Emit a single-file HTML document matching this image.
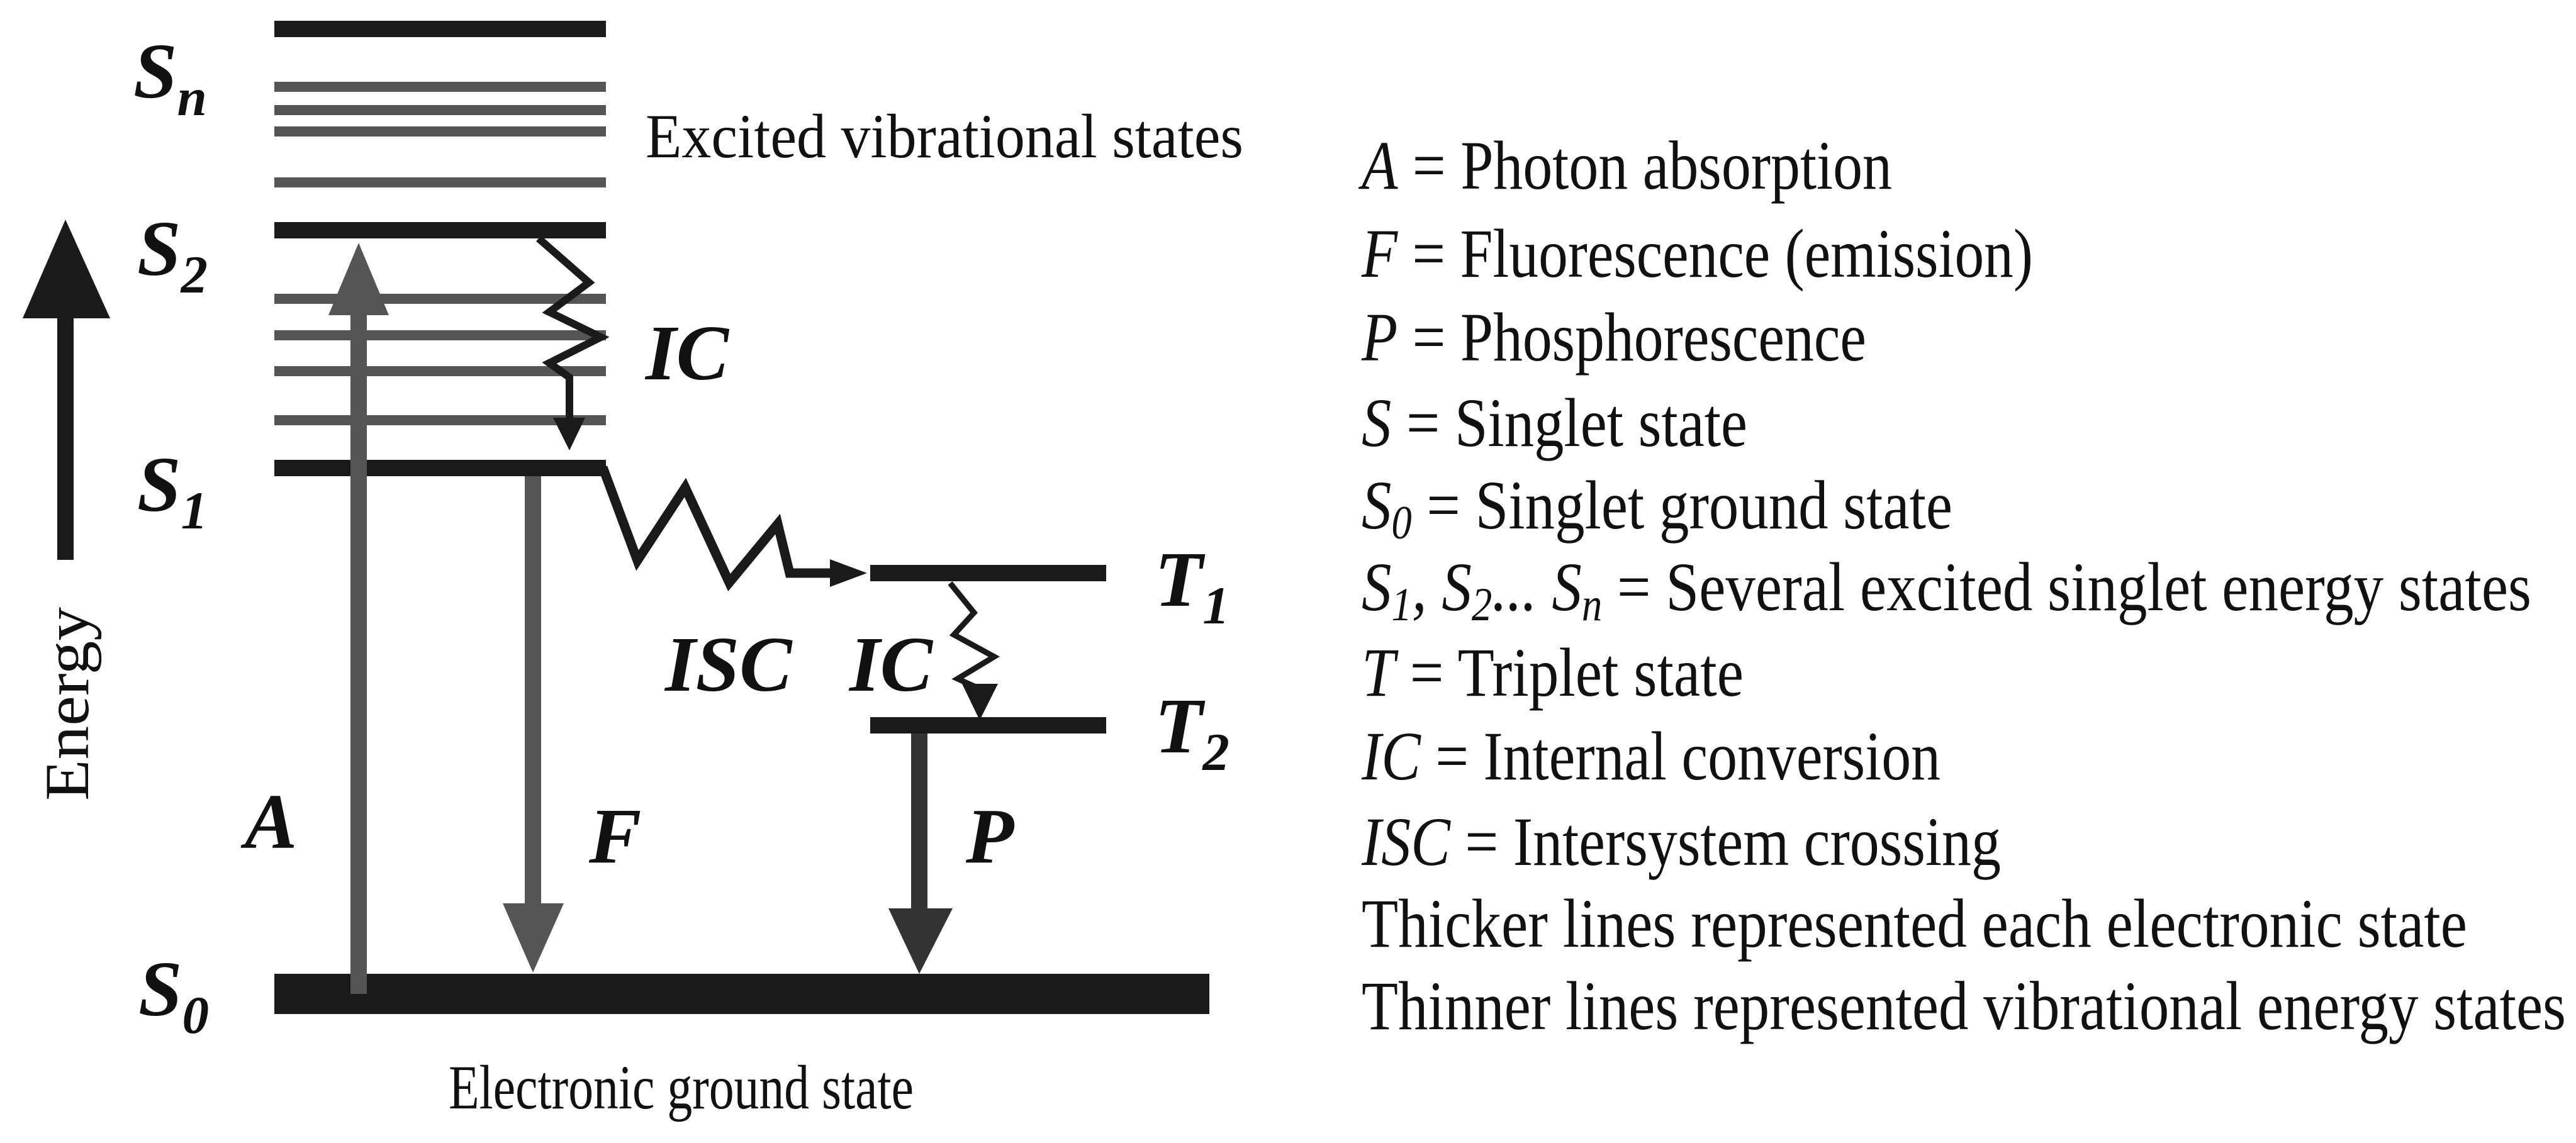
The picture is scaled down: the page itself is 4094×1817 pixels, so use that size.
<!DOCTYPE html>
<html><head><meta charset="utf-8"><style>html,body{margin:0;padding:0;background:#fff}svg{display:block}text{font-family:"Liberation Serif","Times New Roman",Times,serif}</style></head>
<body>
<svg width="4094" height="1817" viewBox="0 0 4094 1817" xmlns="http://www.w3.org/2000/svg">
<rect width="4094" height="1817" fill="#fff"/>
<g fill="#1a1a1a">
<rect x="436" y="33" width="527" height="26"/>
<rect x="436" y="353" width="527" height="26"/>
<rect x="436" y="731" width="527" height="26"/>
<rect x="1383" y="898" width="375" height="26"/>
<rect x="1383" y="1140" width="375" height="26"/>
<rect x="436" y="1548" width="1486" height="64"/>
</g>
<g fill="#555">
<rect x="436" y="130" width="527" height="16"/>
<rect x="436" y="167" width="527" height="16"/>
<rect x="436" y="201" width="527" height="16"/>
<rect x="436" y="282" width="527" height="16"/>
<rect x="436" y="467" width="527" height="16"/>
<rect x="436" y="525" width="527" height="16"/>
<rect x="436" y="582" width="527" height="16"/>
<rect x="436" y="660" width="527" height="16"/>
</g>
<rect x="91" y="500" width="26" height="390" fill="#1a1a1a"/>
<polygon points="104,349 36,506 175,506" fill="#1a1a1a"/>
<rect x="557" y="495" width="26" height="1085" fill="#555"/>
<polygon points="570,386 522,501 618,501" fill="#555"/>
<rect x="834" y="757" width="26" height="685" fill="#555"/>
<polygon points="847,1546 799,1436 896,1436" fill="#555"/>
<rect x="1448" y="1166" width="26" height="282" fill="#333"/>
<polygon points="1461,1548 1412,1444 1514,1444" fill="#333"/>
<polyline points="856,379 936,449 873,496 955,536 873,577 905,600 905,670" fill="none" stroke="#1a1a1a" stroke-width="12"/>
<polygon points="905,716 879,664 930,664" fill="#1a1a1a"/>
<polyline points="958,743 1013,891 1089,775 1159,926 1236,833 1255,911 1325,911" fill="none" stroke="#1a1a1a" stroke-width="15"/>
<polygon points="1378,911 1319,889 1319,933" fill="#1a1a1a"/>
<polyline points="1510,927 1548,974 1516,1009 1580,1044 1522,1079 1557,1095" fill="none" stroke="#1a1a1a" stroke-width="9"/>
<polygon points="1557,1145 1529,1087 1586,1087" fill="#1a1a1a"/>
<g font-weight="bold" font-style="italic" fill="#111" font-size="125">
<text x="212" y="155">S<tspan font-size="85" dy="28">n</tspan></text>
<text x="218" y="437">S<tspan font-size="85" dy="28">2</tspan></text>
<text x="218" y="812">S<tspan font-size="85" dy="28">1</tspan></text>
<text x="220" y="1614">S<tspan font-size="85" dy="28">0</tspan></text>
<text x="1835" y="963">T<tspan font-size="85" dy="28">1</tspan></text>
<text x="1835" y="1196">T<tspan font-size="85" dy="28">2</tspan></text>
<text x="1026" y="603">IC</text>
<text x="1057" y="1098">ISC</text>
<text x="1350" y="1098">IC</text>
<text x="389" y="1348">A</text>
<text x="936" y="1371">F</text>
<text x="1535" y="1371">P</text>
</g>
<g fill="#111" font-size="100">
<text x="1026" y="250" textLength="950" lengthAdjust="spacingAndGlyphs">Excited vibrational states</text>
<text x="713" y="1762" textLength="739" lengthAdjust="spacingAndGlyphs">Electronic ground state</text>
<text transform="translate(140,1273) rotate(-90)" textLength="308" lengthAdjust="spacingAndGlyphs">Energy</text>
</g>
<g fill="#111" font-size="110">
<text x="2164" y="300" textLength="843" lengthAdjust="spacingAndGlyphs"><tspan font-style="italic">A</tspan> = Photon absorption</text>
<text x="2164" y="440" textLength="1067" lengthAdjust="spacingAndGlyphs"><tspan font-style="italic">F</tspan> = Fluorescence (emission)</text>
<text x="2164" y="573" textLength="802" lengthAdjust="spacingAndGlyphs"><tspan font-style="italic">P</tspan> = Phosphorescence</text>
<text x="2164" y="709" textLength="613" lengthAdjust="spacingAndGlyphs"><tspan font-style="italic">S</tspan> = Singlet state</text>
<text x="2164" y="840" textLength="939" lengthAdjust="spacingAndGlyphs"><tspan font-style="italic">S<tspan font-size="75" dy="16">0</tspan></tspan><tspan dy="-16"> = Singlet ground state</tspan></text>
<text x="2164" y="970" textLength="1859" lengthAdjust="spacingAndGlyphs"><tspan font-style="italic">S<tspan font-size="75" dy="16">1</tspan><tspan dy="-16">, S</tspan><tspan font-size="75" dy="16">2</tspan><tspan dy="-16">... S</tspan><tspan font-size="75" dy="16">n</tspan></tspan><tspan dy="-16"> = Several excited singlet energy states</tspan></text>
<text x="2164" y="1106" textLength="607" lengthAdjust="spacingAndGlyphs"><tspan font-style="italic">T</tspan> = Triplet  state</text>
<text x="2164" y="1239" textLength="920" lengthAdjust="spacingAndGlyphs"><tspan font-style="italic">IC</tspan> = Internal conversion</text>
<text x="2164" y="1375" textLength="1016" lengthAdjust="spacingAndGlyphs"><tspan font-style="italic">ISC</tspan> = Intersystem crossing</text>
<text x="2164" y="1505" textLength="1757" lengthAdjust="spacingAndGlyphs">Thicker lines represented each electronic state</text>
<text x="2164" y="1636" textLength="1914" lengthAdjust="spacingAndGlyphs">Thinner lines represented vibrational energy states</text>
</g>
</svg>
</body></html>
